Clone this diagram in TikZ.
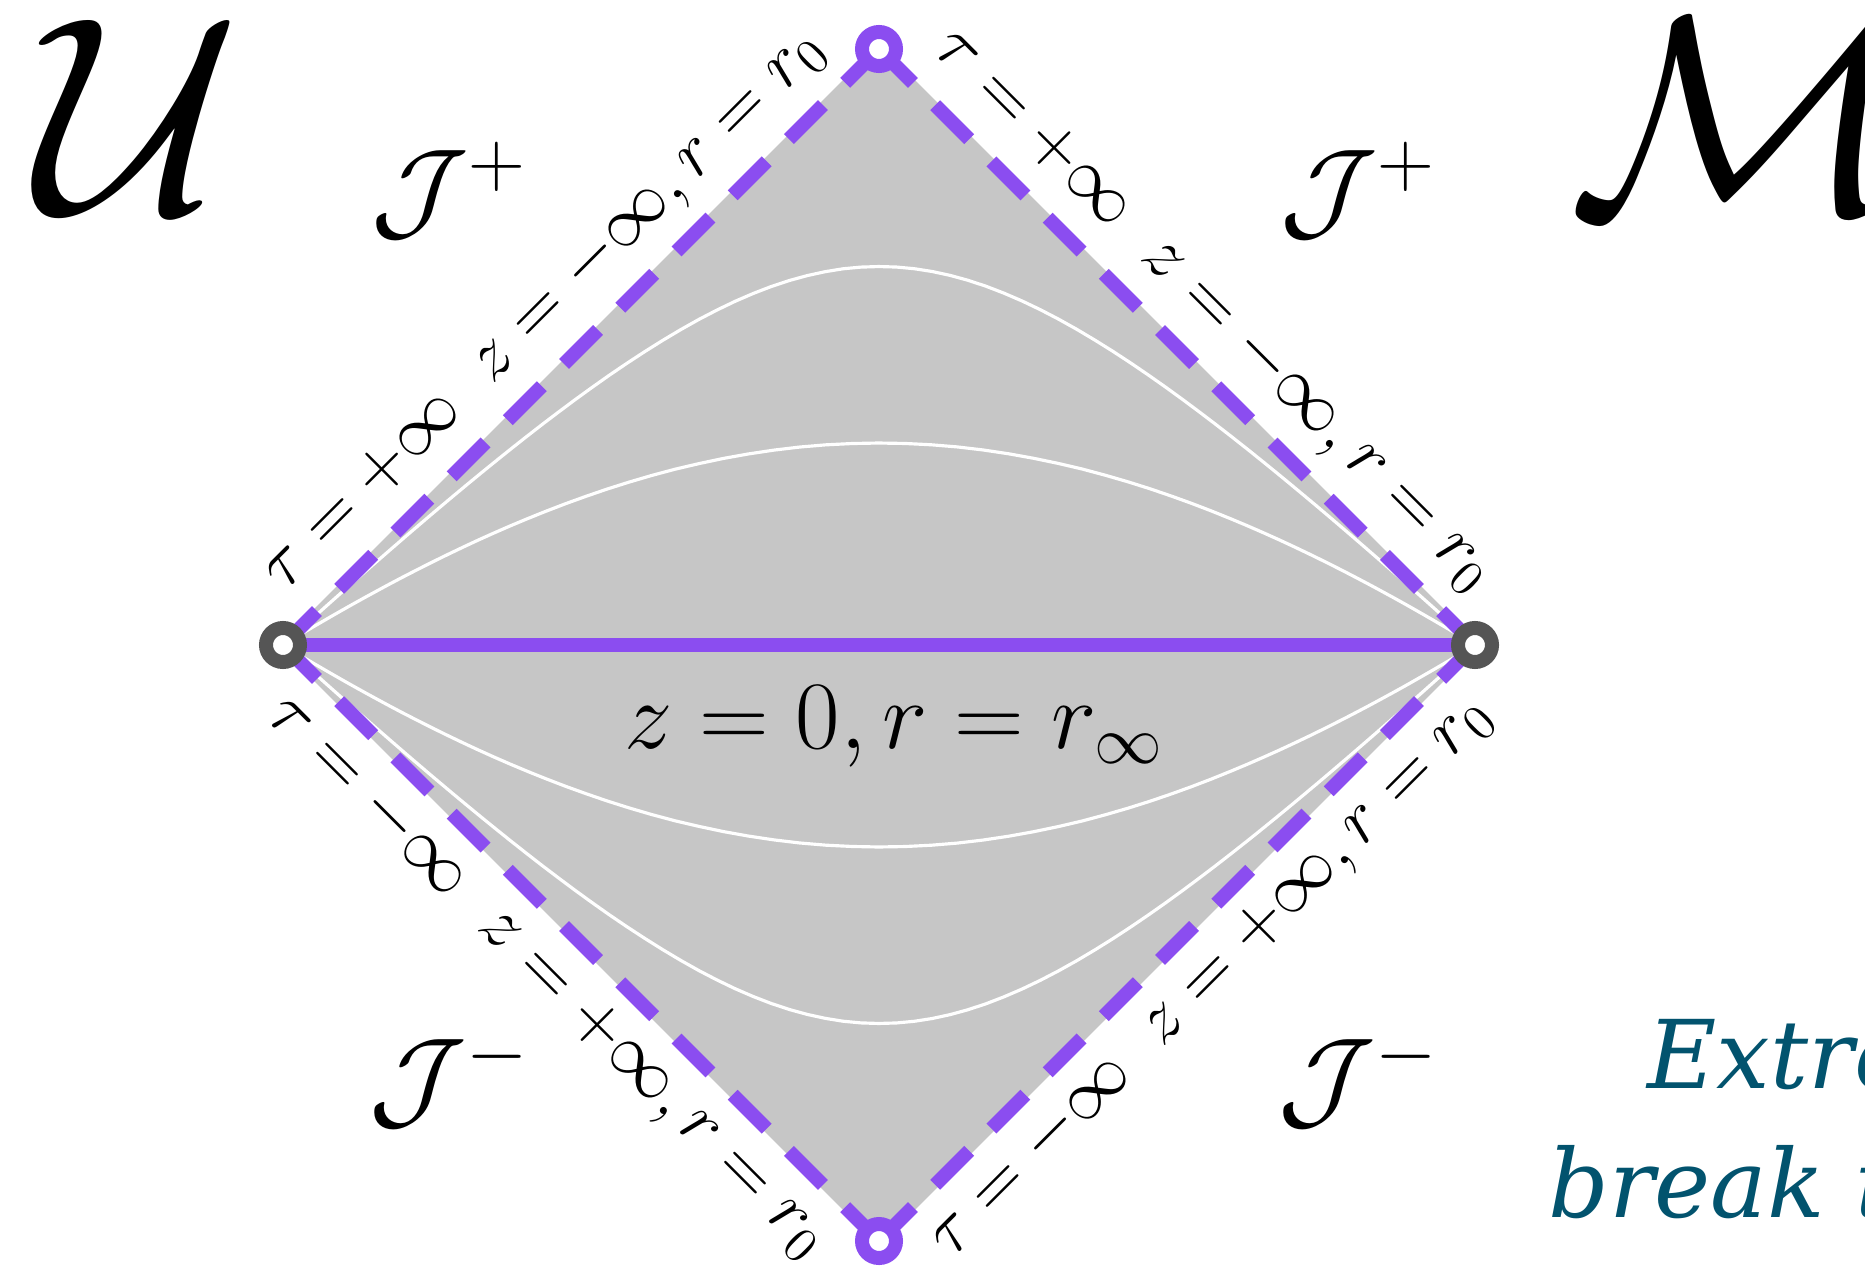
\RequirePackage{fix-cm}
\documentclass[tikz,border=0pt]{standalone}
\usepackage{fontspec}
\newfontfamily\slabfont{DejaVu Serif}
\usepackage{amsmath}
\usepackage{amssymb}
\usetikzlibrary{positioning}

\definecolor{penrose}{RGB}{139,77,240}
\definecolor{bulk}{RGB}{198,198,198}
\definecolor{ringgray}{RGB}{85,85,85}
\definecolor{notecolor}{RGB}{2,83,110}

\tikzset{
    edge/.style={penrose, line width=0.14cm, dash pattern=on 0.48cm off 0.315cm},
    slice/.style={white, line width=0.9pt},
    vertex/.style={circle, draw=#1, fill=white, line width=0.14cm, minimum size=0.34cm, inner sep=0pt},
    edgelabel/.style={font=\fontsize{20.5}{22}\selectfont, text=black, sloped, inner sep=0pt},
    scri/.style={font=\fontsize{32}{34}\selectfont, inner sep=0pt},
    bigletter/.style={font=\fontsize{80}{80}\selectfont, inner sep=0pt},
    notetext/.style={font=\slabfont\itshape\fontsize{27}{30}\selectfont, text=notecolor, inner sep=0pt, anchor=base west}
}

\begin{document}
\begin{tikzpicture}
        \useasboundingbox (0,0) rectangle (18.65,12.69);
        \clip (0,0) rectangle (18.65,12.69);
        \coordinate (L) at (2.83,6.24);
        \coordinate (R) at (14.75,6.24);
        \coordinate (T) at (8.79,12.20);
        \coordinate (B) at (8.79,0.28);
        \fill[bulk] (L) -- (T) -- (R) -- (B) -- cycle;
        \draw[bulk, line width=0.07cm] (L) -- (T) -- (R) -- (B) -- cycle;
        \foreach \c in {0.75,0.353,-0.353,-0.75} {
            \draw[slice] plot[domain=-3.7:3.7, samples=149, variable=\s]
                ({8.79+2.98*(tanh(\c+\s)-tanh(\c-\s))}, {6.24+2.98*(tanh(\c+\s)+tanh(\c-\s))});
        }
        \draw[penrose, line width=0.14cm] (L) -- (R);
        \node[font=\fontsize{27.5}{30}\selectfont, inner sep=0pt] (zzero) at (8.94,5.42) {$z=0, r=r_\infty$};
        \draw[edge] (L) -- (T) node[midway, above=0.15cm, edgelabel] (lblTL) {$\tau=+\infty\;\; z=-\infty, r=r_0$};
        \draw[edge] (T) -- (R) node[midway, above=0.15cm, edgelabel] (lblTR) {$\tau=+\infty\;\; z=-\infty, r=r_0$};
        \draw[edge] (L) -- (B) node[midway, below=0.15cm, edgelabel] (lblBL) {$\tau=-\infty\;\; z=+\infty, r=r_0$};
        \draw[edge] (B) -- (R) node[midway, below=0.15cm, edgelabel] (lblBR) {$\tau=-\infty\;\; z=+\infty, r=r_0$};
        \node[vertex=ringgray] (iL) at (L) {};
        \node[vertex=ringgray] (iR) at (R) {};
        \node[vertex=penrose] (iT) at (T) {};
        \node[vertex=penrose] (iB) at (B) {};
        \node[scri] (scriTL) at (4.49,10.79) {$\mathcal{J}^+$};
        \node[scri] (scriTR) at (13.58,10.79) {$\mathcal{J}^+$};
        \node[scri] (scriBL) at (4.49,1.90) {$\mathcal{J}^-$};
        \node[scri] (scriBR) at (13.58,1.90) {$\mathcal{J}^-$};
        \node[bigletter] (univ) at (1.38,11.53) {$\mathcal{U}$};
        \node[bigletter, anchor=west] (mfld) at (15.68,11.53) {$\mathcal{M}$};
        \node[notetext] (note1) at (16.47,1.81) {Extre};
        \node[notetext] (note2) at (15.48,0.52) {break t};
    \end{tikzpicture}
\end{document}
